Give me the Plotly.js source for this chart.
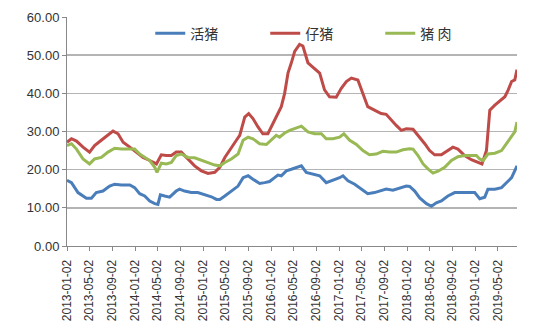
<!DOCTYPE html>
<html>
<head>
<meta charset="utf-8">
<script src="https://cdn.plot.ly/plotly-3.0.1.min.js"></script>
<style>html,body{margin:0;padding:0;background:#fff;}#chart{width:550px;height:331px;}</style>
</head>
<body>
<div id="chart"></div>
<script>
var seriesNames = ["活猪", "仔猪", "猪 肉"];

var liveDates = ["2013-01-02","2013-01-26","2013-03-02","2013-04-16","2013-05-13","2013-06-08","2013-07-14","2013-08-19","2013-09-15","2013-10-21","2013-12-05","2013-12-31","2014-01-27","2014-02-23","2014-03-22","2014-04-18","2014-05-05","2014-05-18","2014-06-10","2014-07-07","2014-08-11","2014-08-29","2014-09-25","2014-10-31","2014-12-05","2015-01-11","2015-02-16","2015-03-15","2015-04-02","2015-04-29","2015-06-03","2015-07-09","2015-08-05","2015-09-01","2015-09-27","2015-11-02","2015-11-29","2015-12-25","2016-01-21","2016-02-08","2016-02-26","2016-03-24","2016-04-20","2016-05-17","2016-06-13","2016-07-09","2016-08-14","2016-09-19","2016-10-24","2016-11-29","2017-01-04","2017-01-22","2017-02-18","2017-03-26","2017-04-30","2017-06-04","2017-07-10","2017-08-15","2017-09-11","2017-10-17","2017-11-22","2017-12-28","2018-01-15","2018-02-11","2018-03-10","2018-04-15","2018-05-12","2018-06-07","2018-07-04","2018-08-08","2018-09-14","2018-10-20","2018-11-24","2018-12-30","2019-01-26","2019-02-22","2019-03-11","2019-04-17","2019-05-23","2019-06-19","2019-07-16","2019-08-14"];
var liveValues = [17.2,16.6,14.0,12.5,12.5,14.0,14.4,15.7,16.2,16.0,16.0,15.3,13.7,13.1,11.8,11.1,10.9,13.4,13.1,12.8,14.4,14.9,14.4,14.0,14.0,13.5,12.9,12.2,12.2,13.1,14.4,15.7,17.9,18.4,17.5,16.4,16.6,16.9,17.9,18.6,18.4,19.7,20.1,20.6,21.0,19.3,18.8,18.4,16.6,17.2,17.9,18.4,17.1,16.2,14.9,13.7,14.0,14.4,14.9,14.6,15.1,15.7,15.6,14.4,12.6,11.1,10.4,11.3,11.8,13.1,14.0,14.0,14.0,14.0,12.4,12.8,14.9,14.9,15.3,16.6,17.9,21.0];

var pigletDates = ["2013-01-02","2013-01-26","2013-02-22","2013-03-29","2013-05-03","2013-05-30","2013-07-05","2013-08-10","2013-09-06","2013-10-03","2013-10-30","2013-12-05","2014-01-09","2014-02-14","2014-03-22","2014-04-27","2014-05-23","2014-06-19","2014-07-16","2014-08-11","2014-09-07","2014-10-13","2014-11-18","2014-12-24","2015-01-29","2015-03-06","2015-04-02","2015-04-29","2015-06-03","2015-06-30","2015-07-18","2015-08-14","2015-09-04","2015-09-27","2015-10-24","2015-11-19","2015-12-16","2016-01-12","2016-02-08","2016-02-26","2016-03-15","2016-04-02","2016-04-20","2016-05-08","2016-06-03","2016-06-21","2016-07-18","2016-08-23","2016-09-19","2016-10-15","2016-11-11","2016-12-17","2017-01-13","2017-02-09","2017-03-08","2017-04-12","2017-05-09","2017-06-04","2017-07-10","2017-08-15","2017-09-11","2017-10-08","2017-11-04","2017-12-01","2017-12-28","2018-02-02","2018-03-01","2018-04-06","2018-05-02","2018-05-29","2018-07-04","2018-08-08","2018-09-04","2018-10-01","2018-11-06","2018-12-12","2019-01-17","2019-02-07","2019-03-03","2019-03-21","2019-04-17","2019-05-14","2019-06-10","2019-06-28","2019-07-16","2019-08-02","2019-08-14"];
var pigletValues = [27.2,28.1,27.5,25.9,24.6,26.3,27.7,29.2,30.1,29.4,27.2,25.9,24.6,23.2,22.4,21.5,23.9,23.7,23.7,24.6,24.6,22.8,21.0,19.7,19.0,19.3,20.6,23.2,25.9,27.7,29.0,33.8,34.7,33.4,31.2,29.4,29.4,32.1,34.7,36.5,40.0,45.3,48.0,51.0,52.8,52.4,48.0,46.6,45.3,40.9,39.1,39.0,41.3,43.1,44.0,43.5,40.0,36.5,35.6,34.7,34.5,32.9,31.6,30.3,30.7,30.6,29.0,26.8,25.0,23.9,23.9,25.0,25.9,25.4,23.7,22.6,21.9,21.5,25.0,35.6,36.9,38.1,39.1,40.9,43.1,43.5,46.2];

var porkDates = ["2013-01-02","2013-01-26","2013-02-22","2013-03-29","2013-05-03","2013-05-30","2013-07-05","2013-08-10","2013-09-15","2013-10-21","2013-12-05","2013-12-31","2014-01-27","2014-02-23","2014-03-22","2014-04-18","2014-04-30","2014-05-23","2014-06-19","2014-07-16","2014-08-11","2014-09-07","2014-10-13","2014-11-18","2014-12-24","2015-01-29","2015-03-06","2015-04-02","2015-04-29","2015-06-03","2015-07-09","2015-08-05","2015-09-01","2015-09-27","2015-11-02","2015-12-08","2016-01-03","2016-01-30","2016-02-17","2016-03-15","2016-04-11","2016-05-17","2016-06-13","2016-07-18","2016-08-23","2016-09-28","2016-10-24","2016-11-29","2017-01-04","2017-01-27","2017-02-27","2017-04-04","2017-05-09","2017-06-13","2017-07-19","2017-08-24","2017-09-29","2017-11-04","2017-12-10","2018-01-15","2018-02-02","2018-03-01","2018-03-28","2018-04-23","2018-05-20","2018-06-16","2018-07-22","2018-08-27","2018-10-01","2018-11-06","2018-12-12","2019-01-08","2019-01-26","2019-02-13","2019-03-11","2019-04-17","2019-05-23","2019-06-19","2019-07-16","2019-08-02","2019-08-14"];
var porkValues = [26.3,26.8,25.4,22.8,21.5,22.8,23.2,24.6,25.6,25.4,25.4,25.4,24.1,23.2,22.4,20.6,19.3,21.7,21.5,21.9,23.7,24.1,23.2,23.1,22.4,21.9,21.2,21.0,21.9,22.8,24.1,27.7,28.5,28.1,26.8,26.6,27.7,29.0,28.5,29.6,30.3,31.0,31.4,29.9,29.4,29.4,28.1,28.1,28.5,29.4,27.7,26.6,25.0,23.9,24.1,24.8,24.6,24.6,25.2,25.5,25.4,23.7,21.5,20.2,19.1,19.6,20.6,22.4,23.4,23.7,23.7,23.7,22.8,22.4,24.1,24.3,25.0,26.8,28.5,29.9,32.5];

var xTickLabels = ["2013-01-02","2013-05-02","2013-09-02","2014-01-02","2014-05-02","2014-09-02","2015-01-02","2015-05-02","2015-09-02","2016-01-02","2016-05-02","2016-09-02","2017-01-02","2017-05-02","2017-09-02","2018-01-02","2018-05-02","2018-09-02","2019-01-02","2019-05-02"];
var yTicks = [0, 10, 20, 30, 40, 50, 60];

var colors = ["#4A7EBB", "#BE4B48", "#98B954"];
var xs = [liveDates, pigletDates, porkDates];
var ys = [liveValues, pigletValues, porkValues];

var traces = seriesNames.map(function (name, i) {
  return {
    type: "scatter", mode: "lines", name: name,
    x: xs[i], y: ys[i],
    line: {color: colors[i], width: 3}
  };
});

var layout = {
  width: 550, height: 331,
  margin: {l: 67, r: 33, t: 17, b: 85},
  paper_bgcolor: "#fff", plot_bgcolor: "#fff",
  font: {family: "Liberation Sans, Arial, Noto Sans CJK SC, sans-serif", color: "#333", size: 12},
  showlegend: true,
  legend: {
    orientation: "h", x: 0.185, xanchor: "left", y: 0.927, yanchor: "middle",
    bgcolor: "rgba(0,0,0,0)", entrywidth: 70, entrywidthmode: "pixels",
    font: {family: "Noto Sans CJK SC, sans-serif", size: 14, color: "#333"}
  },
  xaxis: {
    type: "date", range: ["2013-01-02", "2019-08-14"],
    tickvals: xTickLabels, ticktext: xTickLabels, tickangle: -90,
    ticks: "outside", ticklen: 4, tickcolor: "#888", tickwidth: 1,
    ticklabelstandoff: 4,
    showline: true, linecolor: "#888", linewidth: 1,
    showgrid: false, zeroline: false,
    tickfont: {size: 12, color: "#333"}
  },
  yaxis: {
    range: [0, 60], tickvals: yTicks, tickformat: ".2f",
    ticks: "outside", ticklen: 4, tickcolor: "#888",
    showline: true, linecolor: "#888", linewidth: 1,
    showgrid: true, gridcolor: "#b4b4b4", gridwidth: 1.5, zeroline: false,
    tickfont: {size: 13, color: "#333"}
  }
};

Plotly.newPlot("chart", traces, layout, {displayModeBar: false, staticPlot: true});
</script>
</body>
</html>
